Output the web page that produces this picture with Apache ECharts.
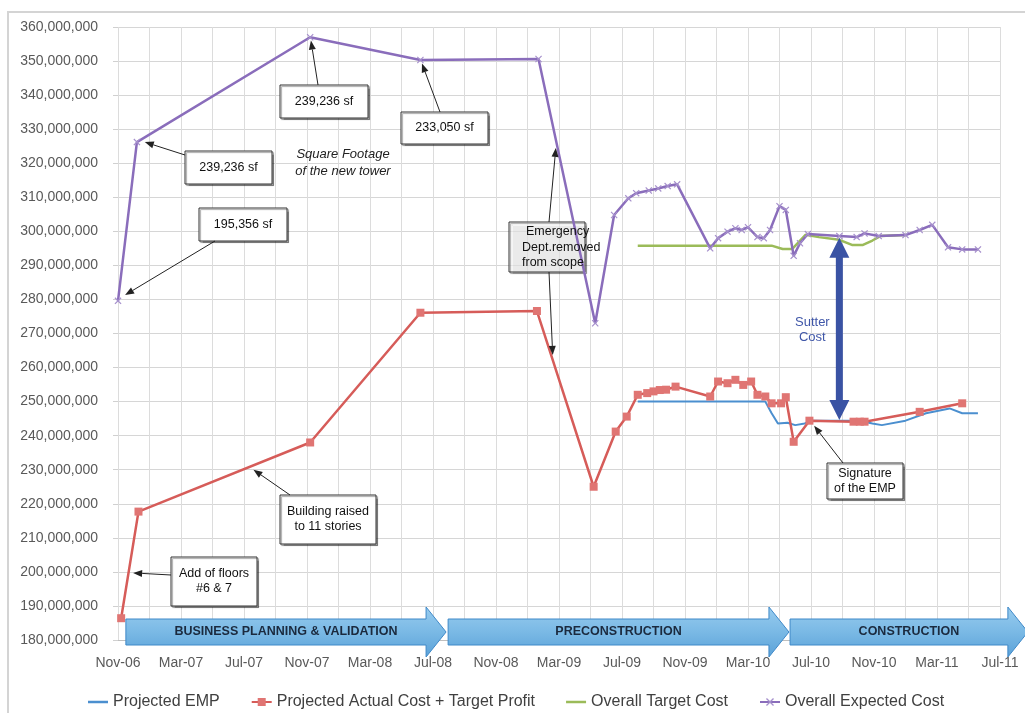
<!DOCTYPE html>
<html>
<head>
<meta charset="utf-8">
<script src="https://cdn.jsdelivr.net/npm/echarts@6/dist/echarts.min.js"></script>
<style>
html, body { margin: 0; padding: 0; background: #fff; }
#main { width: 1025px; height: 713px; }
</style>
</head>
<body>
<div id="main"></div>
<script>
// x values are months after Nov-06, y values are in millions of dollars
var tickLabels = ['Nov-06', 'Mar-07', 'Jul-07', 'Nov-07', 'Mar-08', 'Jul-08', 'Nov-08', 'Mar-09',
    'Jul-09', 'Nov-09', 'Mar-10', 'Jul-10', 'Nov-10', 'Mar-11', 'Jul-11'];

var empX = [33.0, 41.1, 41.5, 41.9, 42.5, 43.0, 43.6, 44.0, 47.1, 47.9, 48.5, 50.0, 51.3, 52.8, 53.6, 54.6];
var empY = [250.0, 250.0, 246.6, 243.6, 243.8, 243.1, 243.6, 244.4, 244.4, 243.6, 243.1, 244.4, 246.6, 248.0, 246.6, 246.6];

var actualX = [0.2, 1.3, 12.2, 19.2, 26.6, 30.2, 31.6, 32.3, 33.0, 33.6, 34.0, 34.4, 34.8, 35.4, 37.6, 38.1,
    38.7, 39.2, 39.7, 40.2, 40.6, 41.1, 41.5, 42.1, 42.4, 42.9, 43.9, 46.7, 47.1, 47.4, 50.9, 53.6];
var actualY = [186.4, 217.7, 238.0, 276.1, 276.6, 225.0, 241.2, 245.6, 252.0, 252.5, 253.0, 253.4, 253.5, 254.4, 251.5, 255.9,
    255.4, 256.4, 254.9, 255.9, 252.0, 251.5, 249.5, 249.5, 251.3, 238.2, 244.4, 244.1, 244.1, 244.1, 247.0, 249.5];

var targetX = [33.0, 41.5, 42.2, 42.8, 43.65, 44.5, 45.8, 46.6, 47.3, 47.9, 48.4, 50.0];
var targetY = [295.8, 295.8, 294.8, 294.8, 299.0, 298.3, 297.5, 296.0, 296.0, 297.3, 298.6, 298.9];

var expectedX = [0, 1.2, 12.2, 19.2, 26.7, 30.3, 31.5, 32.4, 32.9, 33.7, 34.3, 34.9, 35.5, 37.6, 38.1, 38.7, 39.2,
    39.6, 40.0, 40.6, 41.0, 41.4, 42.0, 42.4, 42.9, 43.3, 43.8, 45.8, 46.9, 47.4, 48.3, 50.0, 50.9, 51.7, 52.7, 53.6, 54.6];
var expectedY = [279.6, 326.2, 357.0, 350.3, 350.6, 273.0, 304.8, 309.7, 311.2, 312.0, 312.6, 313.3, 313.8, 295.0, 298.0, 299.9, 300.9,
    300.4, 301.2, 298.3, 298.0, 300.4, 307.4, 306.3, 292.8, 296.5, 299.2, 298.6, 298.3, 299.4, 298.6, 298.9, 300.4, 301.9, 295.3, 294.7, 294.7];

// project phases (start / end month)
var phaseNames = ['BUSINESS PLANNING & VALIDATION', 'PRECONSTRUCTION', 'CONSTRUCTION'];
var phaseStart = [0.5, 20.96, 42.67];
var phaseEnd = [20.83, 42.6, 57.77];

function pairs(xs, ys) {
    return xs.map(function (x, i) { return [x, ys[i]]; });
}

var FONT = "'Liberation Sans', Arial, sans-serif";
var xMark = 'path://M0,1.2L1.2,0L5,3.8L8.8,0L10,1.2L6.2,5L10,8.8L8.8,10L5,6.2L1.2,10L0,8.8L3.8,5Z';
var lineIcon = 'path://M0,0L20,0L20,2.5L0,2.5Z';

var option = {
    animation: false,
    textStyle: {fontFamily: FONT},
    grid: {left: 118, right: 25, top: 27, bottom: 73},
    legend: {
        left: 83,
        top: 689,
        itemWidth: 20,
        itemHeight: 10,
        itemGap: 31,
        textStyle: {fontSize: 16, color: '#404040', fontFamily: FONT},
        data: [
            {name: 'Projected EMP', icon: lineIcon},
            'Projected Actual Cost + Target Profit',
            {name: 'Overall Target Cost', icon: lineIcon},
            'Overall Expected Cost'
        ]
    },
    xAxis: {
        type: 'value',
        min: 0,
        max: 56,
        interval: 2,
        axisLine: {show: true, lineStyle: {color: '#bfbfbf'}},
        axisTick: {show: false},
        axisLabel: {
            margin: 16,
            fontSize: 14,
            color: '#595959',
            showMinLabel: true,
            showMaxLabel: true,
            formatter: function (v) {
                return v % 4 === 0 ? tickLabels[v / 4] : '';
            }
        },
        splitLine: {show: true, lineStyle: {color: '#dcdcdc'}}
    },
    yAxis: {
        type: 'value',
        min: 180,
        max: 360,
        interval: 10,
        axisLine: {show: false},
        axisTick: {show: true, length: 5, lineStyle: {color: '#d0d0d0'}},
        axisLabel: {
            margin: 20,
            fontSize: 14,
            color: '#595959',
            formatter: function (v) { return v + ',000,000'; }
        },
        splitLine: {show: true, lineStyle: {color: '#d6d6d6'}}
    },
    series: [
        {
            name: 'Projected EMP',
            type: 'line',
            symbol: 'none',
            color: '#4b8fcf',
            lineStyle: {width: 2, color: '#4b8fcf'},
            data: pairs(empX, empY)
        },
        {
            name: 'Projected Actual Cost + Target Profit',
            type: 'line',
            symbol: 'rect',
            symbolSize: 8,
            color: '#dc6764',
            itemStyle: {color: '#e07573'},
            lineStyle: {width: 2.5, color: '#d65c59'},
            data: pairs(actualX, actualY)
        },
        {
            name: 'Overall Target Cost',
            type: 'line',
            symbol: 'none',
            color: '#9bbb59',
            lineStyle: {width: 2.5, color: '#9bbb59'},
            data: pairs(targetX, targetY)
        },
        {
            name: 'Overall Expected Cost',
            type: 'line',
            symbol: xMark,
            symbolSize: 7,
            color: '#8a6dbb',
            itemStyle: {color: '#a690cc'},
            lineStyle: {width: 2.5, color: '#8a6dbb'},
            data: pairs(expectedX, expectedY)
        }
    ]
};

var chart = echarts.init(document.getElementById('main'));
chart.setOption(option);

function px(m, v) {
    return chart.convertToPixel({gridIndex: 0}, [m, v]);
}

// thin black pointer with a filled head
function pointer(x1, y1, x2, y2) {
    var a = Math.atan2(y2 - y1, x2 - x1), L = 9, W = 3.5;
    var bx = x2 - L * Math.cos(a), by = y2 - L * Math.sin(a);
    return [
        {type: 'line', z: 20, shape: {x1: x1, y1: y1, x2: bx, y2: by}, style: {stroke: '#222', lineWidth: 1}},
        {type: 'polygon', z: 20, shape: {points: [[x2, y2],
            [bx + W * Math.sin(a), by - W * Math.cos(a)],
            [bx - W * Math.sin(a), by + W * Math.cos(a)]]}, style: {fill: '#222'}}
    ];
}

function box(b, lines, fill) {
    var els = [{
        type: 'rect', z: 15,
        shape: {x: b[0], y: b[1], width: b[2], height: b[3]},
        style: {fill: fill, stroke: '#333', lineWidth: 1,
            shadowColor: 'rgba(0,0,0,0.35)', shadowOffsetX: 1.5, shadowOffsetY: 1.5, shadowBlur: 1}
    }];
    var cy = b[1] + b[3] / 2 - (lines.length - 1) * 7.5;
    lines.forEach(function (t, i) {
        els.push({type: 'text', z: 21, x: b[0] + b[2] / 2, y: cy + i * 15,
            style: {text: t, fill: '#111', font: '12.5px ' + FONT, align: 'center', verticalAlign: 'middle'}});
    });
    return els;
}

var notes = [
    {lines: ['239,236 sf'], box: [280, 85, 88, 33], from: [318, 85], to: [12.25, 356.0]},
    {lines: ['233,050 sf'], box: [401, 112, 87, 32], from: [440, 112], to: [19.3, 349.3]},
    {lines: ['239,236 sf'], box: [185, 151, 87, 33], from: [185, 155], to: [1.7, 326.2]},
    {lines: ['195,356 sf'], box: [199, 208, 88, 33], from: [215, 241], to: [0.45, 281.3]},
    {lines: ['Building raised', 'to 11 stories'], box: [280, 495, 96, 49], from: [290, 495], to: [8.6, 230.0]},
    {lines: ['Add of floors', '#6 & 7'], box: [171, 557, 86, 49], from: [171, 575], to: [0.96, 199.7]},
    {lines: ['Signature', 'of the EMP'], box: [827, 463, 76, 36], from: [843, 463], to: [44.2, 242.9]}
];

var g = [];

// outer chart frame
g.push({type: 'rect', z: 0, shape: {x: 8, y: 12, width: 1040, height: 740},
    style: {fill: null, stroke: '#d4d4d4', lineWidth: 2}});

notes.forEach(function (n) {
    var t = px(n.to[0], n.to[1]);
    g = g.concat(pointer(n.from[0], n.from[1], t[0], t[1]));
    g = g.concat(box(n.box, n.lines, '#fff'));
});

// Emergency dept note: open box, text spilling over its right edge
g.push({type: 'rect', z: 1, shape: {x: 509, y: 222, width: 76, height: 50},
    style: {fill: 'rgba(255,255,255,0.6)', stroke: '#333', lineWidth: 1,
        shadowColor: 'rgba(0,0,0,0.35)', shadowOffsetX: 1.5, shadowOffsetY: 1.5, shadowBlur: 1}});
['Emergency', 'Dept.removed', 'from scope'].forEach(function (t, i) {
    g.push({type: 'text', z: 21, x: i === 0 ? 526 : 522, y: 232 + i * 15.5,
        style: {text: t, fill: '#111', font: '12.5px ' + FONT, align: 'left', verticalAlign: 'middle'}});
});
var e1 = px(27.8, 324.5), e2 = px(27.6, 263.7);
g = g.concat(pointer(549, 222, e1[0], e1[1]));
g = g.concat(pointer(549, 272, e2[0], e2[1]));

// italic caption
['Square Footage', 'of the new tower'].forEach(function (t, i) {
    g.push({type: 'text', z: 21, x: 343, y: 154 + i * 17,
        style: {text: t, fill: '#222', font: 'italic 13px ' + FONT, align: 'center', verticalAlign: 'middle'}});
});

// Sutter cost double arrow
var sTop = px(45.8, 298.1), sBot = px(45.8, 244.6);
var cx = sTop[0], ty = sTop[1], by = sBot[1];
g.push({type: 'polygon', z: 22, shape: {points: [
    [cx, ty], [cx + 10, ty + 20], [cx + 3.5, ty + 20], [cx + 3.5, by - 20], [cx + 10, by - 20],
    [cx, by], [cx - 10, by - 20], [cx - 3.5, by - 20], [cx - 3.5, ty + 20], [cx - 10, ty + 20]]},
    style: {fill: '#3a53a4'}});
['Sutter', 'Cost'].forEach(function (t, i) {
    g.push({type: 'text', z: 21, x: cx - 27, y: 322 + i * 15,
        style: {text: t, fill: '#3f56a8', font: '13px ' + FONT, align: 'center', verticalAlign: 'middle'}});
});

// phase ribbons along the time axis
var yc = 632;
phaseNames.forEach(function (name, i) {
    var x0 = px(phaseStart[i], 180)[0], xt = px(phaseEnd[i], 180)[0], xb = xt - 20;
    g.push({type: 'polygon', z: 18, shape: {points: [
        [x0, yc - 13], [xb, yc - 13], [xb, yc - 25], [xt, yc], [xb, yc + 25], [xb, yc + 13], [x0, yc + 13]]},
        style: {
            fill: new echarts.graphic.LinearGradient(0, 0, 0, 1, [
                {offset: 0, color: '#98ccef'}, {offset: 0.5, color: '#7ab9e5'}, {offset: 1, color: '#5aa1d8'}]),
            stroke: '#3f89c8', lineWidth: 1
        }});
    g.push({type: 'text', z: 19, x: (x0 + xt) / 2, y: yc,
        style: {text: name, fill: '#1b2a3e', font: 'bold 12.5px ' + FONT, align: 'center', verticalAlign: 'middle'}});
});

chart.setOption({graphic: g});
</script>
</body>
</html>
